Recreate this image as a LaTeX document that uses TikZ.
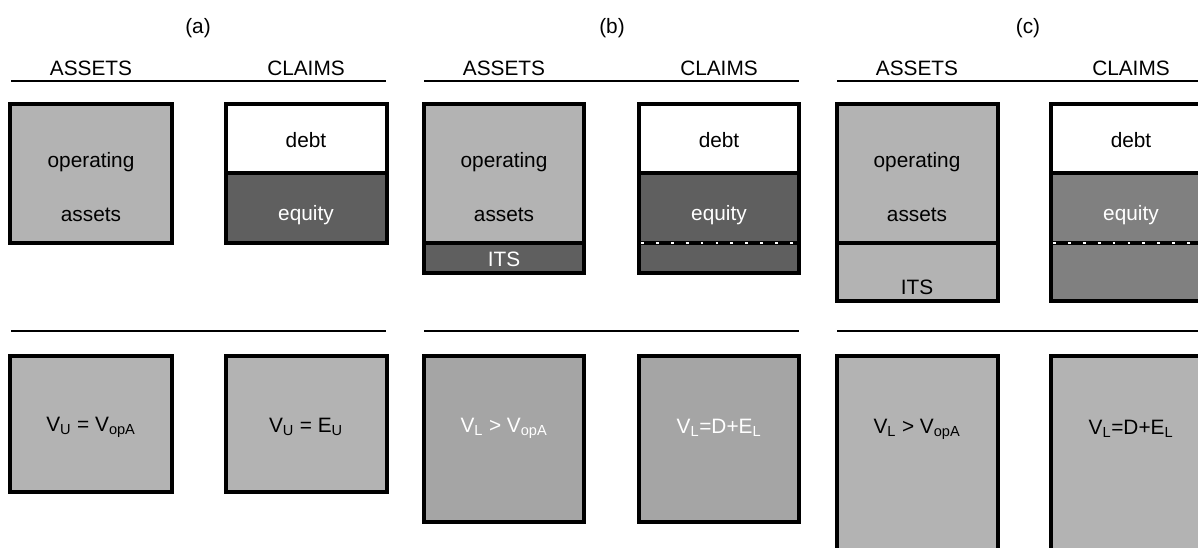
\documentclass[tikz,border=0pt]{standalone}
\usepackage{fontspec}
\setmainfont{Liberation Sans}
\usetikzlibrary{positioning}
\definecolor{cLite}{HTML}{B3B3B3}
\definecolor{cDark}{HTML}{5F5F5F}
\definecolor{cMid}{HTML}{808080}
\definecolor{cBody}{HTML}{A5A5A5}
\tikzset{
  box/.style  = {draw=black, line width=2.5pt},
  rule/.style = {draw=black, line width=1.7pt},
  lab/.style  = {font=\fontsize{14.8}{17}\selectfont, inner sep=0pt},
  wlab/.style = {lab, text=white},
  cut/.style  = {draw=white, line width=0.8pt, dash pattern=on 2pt off 8.6pt},
}

\begin{document}
\begin{tikzpicture}[x=0.025cm,y=-0.025cm]
      \clip (0,0) rectangle (1198,547);
      \fill[white] (0,0) rectangle (1198,547);

      % ---- PANEL (a): unlevered ----
      \node[lab] (ta) at (198,28) {(a)};
      \node[lab] (aA) at (91,68) {ASSETS};
      \node[lab] (aC) at (306,68) {CLAIMS};
      \draw[rule] (11,81) -- (386,81);
      \fill[cLite] (10,104) rectangle (172,243);
      \draw[box] (10,104) rectangle (172,243);
      \fill[cDark] (226,173) rectangle (387,243);
      \draw[box] (226,104) rectangle (387,243);
      \draw[box] (226,173) -- (387,173);
      \node[lab]  (aop) at (91,162)  {operating};
      \node[lab]  (aas) at (91,215)  {assets};
      \node[lab]  (ade) at (306,140) {debt};
      \node[wlab] (aeq) at (306,215) {equity};
      \draw[rule] (11,331) -- (386,331);
      \filldraw[box, fill=cLite] (10,356) rectangle (172,492);
      \filldraw[box, fill=cLite] (226,356) rectangle (387,492);
      \node[lab] (aVa) at (91,427)  {V\textsubscript{U} = V\textsubscript{opA}};
      \node[lab] (aVc) at (306,427) {V\textsubscript{U} = E\textsubscript{U}};

      % ---- PANEL (b): levered, ITS taken by equity ----
      \node[lab] (tb) at (612,28) {(b)};
      \node[lab] (bA) at (504,68) {ASSETS};
      \node[lab] (bC) at (719,68) {CLAIMS};
      \draw[rule] (424,81) -- (799,81);
      \fill[cLite] (424,104) rectangle (584,243);
      \fill[cDark] (424,243) rectangle (584,273);
      \draw[box] (424,104) rectangle (584,273);
      \draw[box] (424,243) -- (584,243);
      \fill[cDark] (639,173) rectangle (799,273);
      \draw[box] (639,104) rectangle (799,273);
      \draw[box] (639,173) -- (799,173);
      \draw[box] (639,243) -- (799,243);
      \draw[cut] (641,243) -- (797,243);
      \node[lab]  (bop) at (504,162) {operating};
      \node[lab]  (bas) at (504,215) {assets};
      \node[wlab] (bit) at (504,259) {ITS};
      \node[lab]  (bde) at (719,140) {debt};
      \node[wlab] (beq) at (719,215) {equity};
      \draw[rule] (424,331) -- (799,331);
      \filldraw[box, fill=cBody] (424,356) rectangle (584,522);
      \filldraw[box, fill=cBody] (639,356) rectangle (799,522);
      \node[wlab] (bVa) at (504,428) {V\textsubscript{L} > V\textsubscript{opA}};
      \node[wlab] (bVc) at (719,428) {V\textsubscript{L}=D+E\textsubscript{L}};

      % ---- PANEL (c): levered, ITS as an asset ----
      \node[lab] (tc) at (1028,28) {(c)};
      \node[lab] (cA) at (917,68) {ASSETS};
      \node[lab] (cC) at (1131,68) {CLAIMS};
      \draw[rule] (837,81) -- (1210,81);
      \filldraw[box, fill=cLite] (837,104) rectangle (998,301);
      \draw[box] (837,243) -- (998,243);
      \fill[cMid] (1051,173) rectangle (1212,301);
      \draw[box] (1051,104) rectangle (1212,301);
      \draw[box] (1051,173) -- (1212,173);
      \draw[box] (1051,243) -- (1212,243);
      \draw[cut] (1053,243) -- (1210,243);
      \node[lab]  (cop) at (917,162)  {operating};
      \node[lab]  (cas) at (917,215)  {assets};
      \node[lab]  (cit) at (917,287)  {ITS};
      \node[lab]  (cde) at (1131,140) {debt};
      \node[wlab] (ceq) at (1131,215) {equity};
      \draw[rule] (837,331) -- (1210,331);
      \filldraw[box, fill=cLite] (837,356) rectangle (998,570);
      \filldraw[box, fill=cLite] (1051,356) rectangle (1212,570);
      \node[lab] (cVa) at (917,429)  {V\textsubscript{L} > V\textsubscript{opA}};
      \node[lab] (cVc) at (1131,429) {V\textsubscript{L}=D+E\textsubscript{L}};
\end{tikzpicture}
\end{document}
